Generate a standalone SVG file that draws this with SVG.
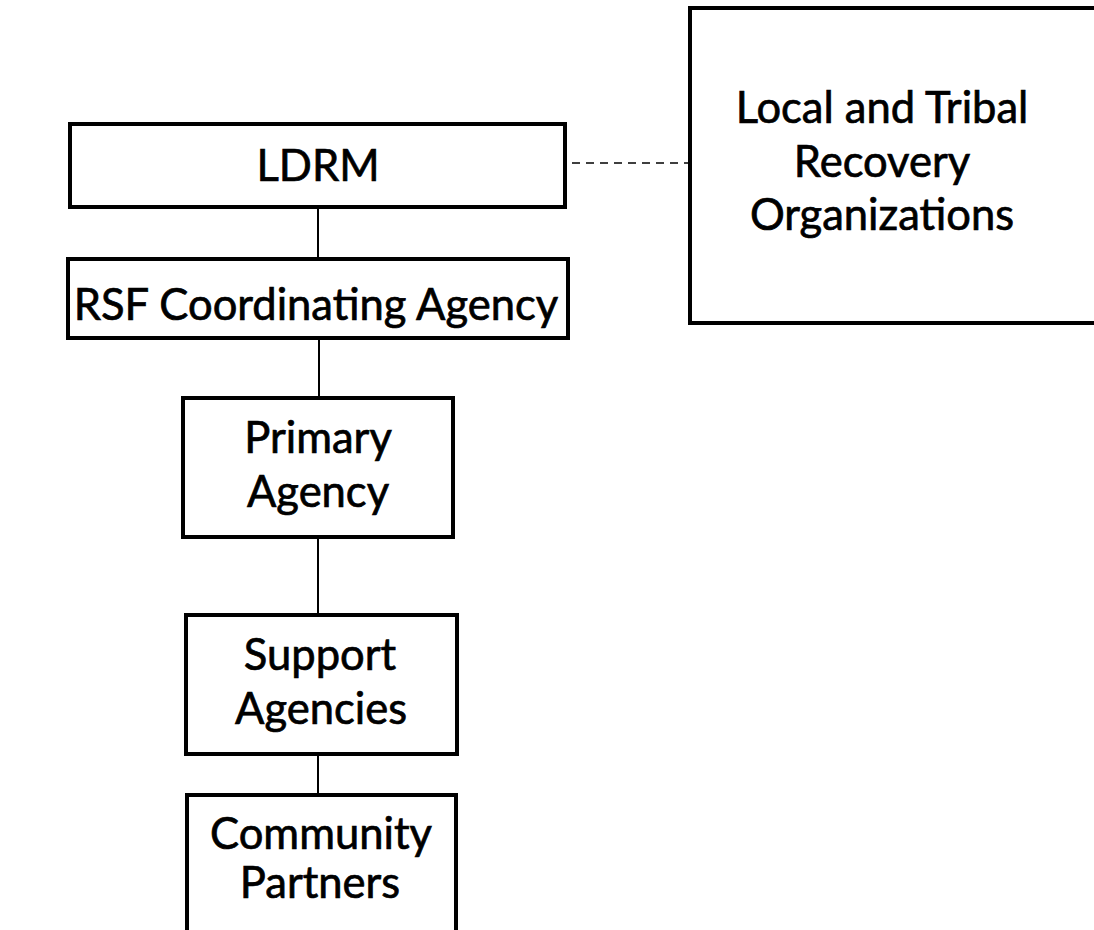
<svg xmlns="http://www.w3.org/2000/svg" width="1094" height="930" viewBox="0 0 1094 930">
<style>
.box{fill:#fff;stroke:#000;stroke-width:4}
.lbl{font-family:Lato,"Open Sans","Liberation Sans",sans-serif;font-size:43.5px;fill:#000;stroke:#000;stroke-width:0.7;text-anchor:middle}
.con{stroke:#000;stroke-width:2;fill:none}
.dash{stroke:#000;stroke-width:1.6;fill:none;stroke-dasharray:8 6}
</style>
<rect width="1094" height="930" fill="#fff"/>
<g id="connectors">
<line class="con" x1="318" y1="207" x2="318" y2="259"/>
<line class="con" x1="319" y1="338" x2="319" y2="398"/>
<line class="con" x1="318" y1="537" x2="318" y2="615"/>
<line class="con" x1="318" y1="754" x2="318" y2="795"/>
<line class="dash" x1="572" y1="163" x2="690" y2="163"/>
</g>
<g id="ldrm">
<rect class="box" x="70" y="124" width="495" height="83"/>
<text class="lbl" x="318" y="181">LDRM</text>
</g>
<g id="rsf">
<rect class="box" x="68" y="259" width="500" height="79"/>
<text class="lbl" x="316" y="320">RSF Coordinating Agency</text>
</g>
<g id="primary">
<rect class="box" x="183" y="398" width="270" height="139"/>
<text class="lbl" x="318" y="453">Primary</text>
<text class="lbl" x="318" y="507">Agency</text>
</g>
<g id="support">
<rect class="box" x="186" y="615" width="271" height="139"/>
<text class="lbl" x="320" y="670">Support</text>
<text class="lbl" x="321" y="724">Agencies</text>
</g>
<g id="community">
<rect class="box" x="187" y="795" width="269" height="145"/>
<text class="lbl" x="321" y="849">Community</text>
<text class="lbl" x="320" y="898">Partners</text>
</g>
<g id="local">
<rect class="box" x="690" y="8" width="420" height="315"/>
<text class="lbl" x="882" y="123">Local and Tribal</text>
<text class="lbl" x="882" y="177">Recovery</text>
<text class="lbl" x="882" y="230">Organizations</text>
</g>
</svg>
